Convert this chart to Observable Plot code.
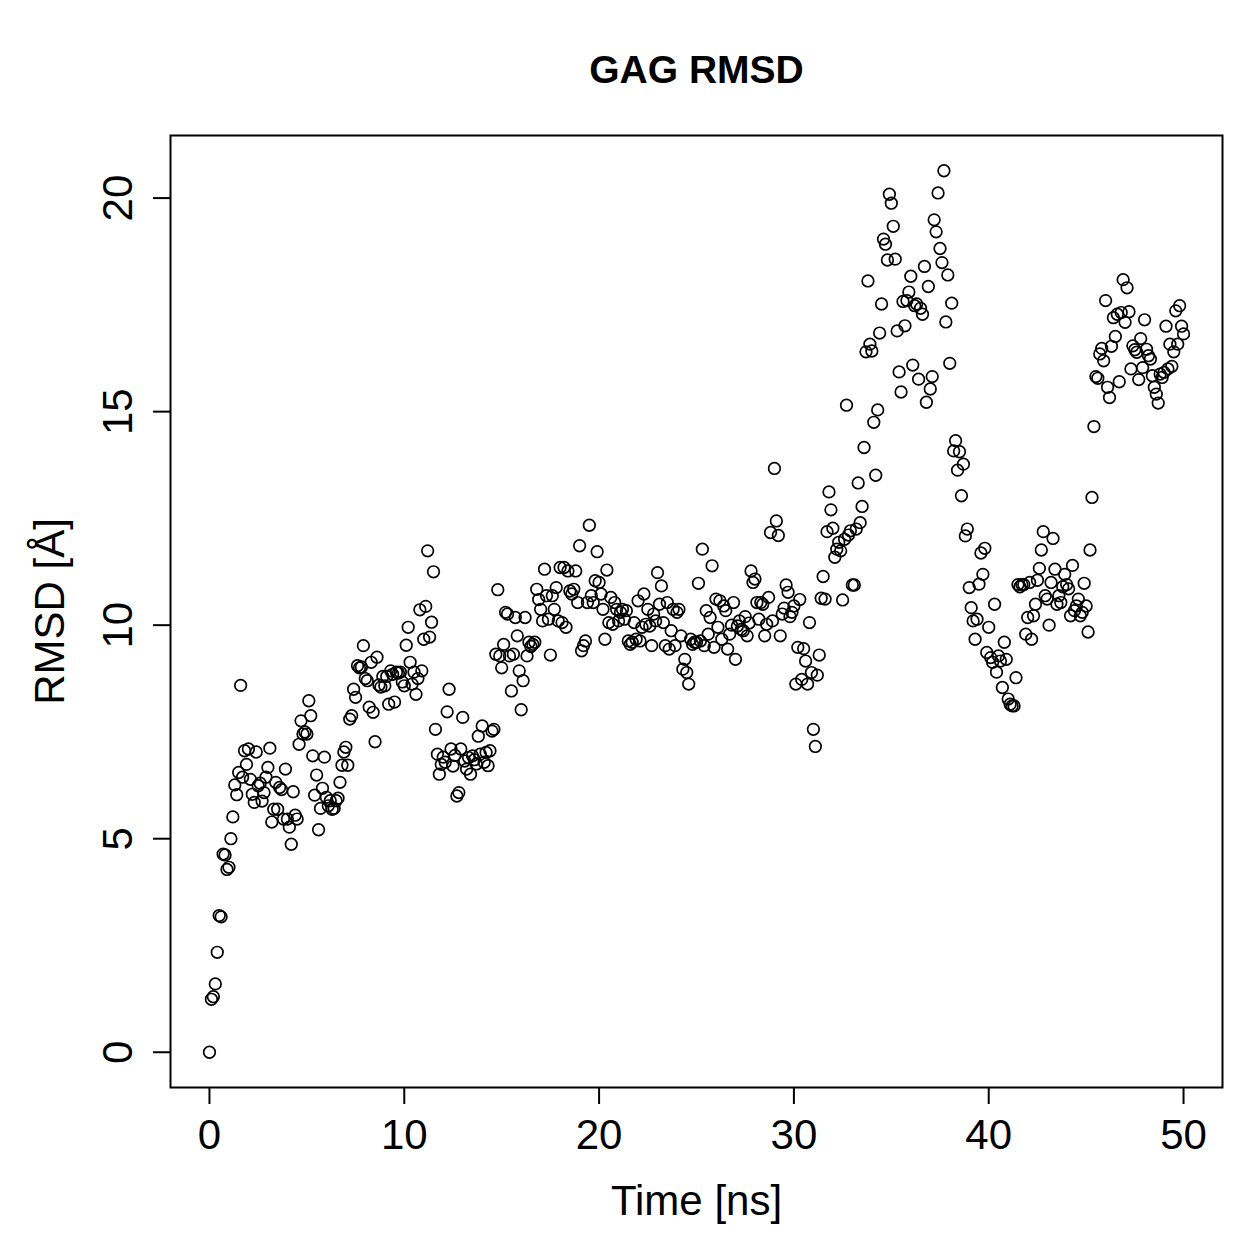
<!DOCTYPE html>
<html>
<head>
<meta charset="utf-8">
<script src="https://cdn.jsdelivr.net/npm/d3@7"></script>
<script src="https://cdn.jsdelivr.net/npm/@observablehq/plot@0.6"></script>
<style>
  html, body { margin: 0; padding: 0; background: #fff; }
</style>
</head>
<body>
<div id="chart"></div>
<script>
// Text
const title = "GAG RMSD";
const xLabel = "Time [ns]";
const yLabel = "RMSD [Å]";

// Tick positions
const xTicks = [0, 10, 20, 30, 40, 50];
const yTicks = [0, 5, 10, 15, 20];

// Trajectory frames are saved every 0.1 ns; one row per nanosecond
const timeStep = 0.1;
const rmsd = [
  0, 1.24, 1.3, 1.6, 2.34, 3.2, 3.17, 4.64, 4.62, 4.28,
  4.33, 5.0, 5.51, 6.26, 6.03, 6.55, 8.59, 6.44, 7.06, 6.74,
  7.1, 6.39, 6.04, 5.85, 7.03, 6.24, 6.3, 5.88, 6.08, 6.44,
  6.67, 7.12, 5.39, 5.69, 6.32, 5.69, 6.2, 6.15, 5.46, 6.63,
  5.46, 5.27, 4.87, 6.1, 5.55, 5.46, 7.21, 7.76, 7.45, 7.5,
  7.45, 8.23, 7.88, 6.94, 6.02, 6.49, 5.21, 5.71, 6.18, 6.91,
  5.97, 5.77, 5.89, 5.69, 5.71, 5.89, 5.95, 6.32, 6.72, 7.03,
  7.14, 6.72, 7.8, 7.88, 8.5, 8.31, 9.05, 9.0, 9.02, 9.52,
  8.75, 8.7, 8.08, 9.13, 7.96, 7.27, 9.25, 8.6, 8.55, 8.8,
  8.58, 8.8, 8.15, 8.93, 8.85, 8.2, 8.9, 8.88, 8.9, 8.67,
  8.58, 9.53, 9.95, 9.13, 8.62, 8.9, 8.38, 8.75, 10.36, 8.93,
  9.67, 10.44, 11.74, 9.72, 10.07, 11.25, 7.56, 6.98, 6.51, 6.74,
  6.91, 6.79, 7.97, 8.5, 7.1, 6.7, 6.95, 6.0, 6.08, 7.1,
  7.84, 6.82, 6.63, 6.9, 6.51, 6.94, 6.85, 6.75, 7.4, 6.98,
  7.64, 6.79, 7.02, 6.71, 7.06, 7.52, 7.56, 9.32, 10.83, 9.28,
  9.0, 9.55, 10.3, 10.26, 9.28, 8.46, 9.32, 10.18, 9.75, 8.93,
  8.02, 8.7, 10.18, 9.28, 9.6, 9.5, 9.55, 9.6, 10.84, 10.6,
  10.37, 10.1, 11.31, 10.69, 10.14, 9.3, 10.69, 10.37, 10.88, 10.1,
  11.35, 10.06, 11.35, 9.95, 11.27, 10.8, 10.73, 10.84, 11.27, 10.53,
  11.86, 9.4, 9.52, 9.63, 10.53, 12.34, 10.69, 10.53, 11.04, 11.72,
  11.0, 10.73, 10.37, 9.67, 11.29, 10.06, 10.65, 10.02, 10.53, 10.37,
  10.1, 10.3, 10.37, 10.14, 10.34, 9.63, 9.55, 9.6, 10.06, 9.67,
  10.57, 9.63, 9.95, 10.73, 10.02, 10.37, 9.98, 9.52, 10.26, 10.1,
  11.23, 10.49, 10.92, 10.06, 9.52, 10.53, 9.44, 9.87, 10.37, 9.52,
  10.3, 10.37, 9.75, 8.97, 9.2, 8.89, 8.62, 9.67, 9.55, 9.6,
  9.6, 10.98, 9.63, 11.78, 9.52, 10.34, 9.79, 10.18, 11.39, 9.48,
  10.61, 9.95, 10.57, 9.67, 10.45, 10.34, 9.44, 9.79, 10.0, 10.53,
  9.2, 9.98, 10.1, 9.9, 9.87, 10.2, 9.75, 10.05, 11.27, 11.0,
  11.08, 10.53, 10.14, 10.53, 10.49, 9.75, 10.02, 10.65, 12.17, 10.1,
  13.67, 12.44, 12.1, 9.75, 10.26, 10.4, 10.94, 10.77, 10.2, 10.3,
  10.45, 8.62, 9.48, 10.6, 8.73, 9.45, 9.16, 8.62, 10.06, 8.89,
  7.56, 7.16, 8.83, 9.3, 10.63, 11.14, 10.61, 12.19, 13.12, 12.7,
  12.27, 11.59, 11.78, 11.94, 11.74, 10.59, 12.01, 15.15, 12.11, 12.21,
  10.94, 10.94, 12.25, 13.33, 12.4, 12.78, 14.16, 16.4, 18.06, 16.58,
  16.42, 14.75, 13.51, 15.04, 16.84, 17.52, 19.04, 18.92, 18.55, 20.09,
  19.88, 19.34, 18.57, 16.89, 15.93, 15.46, 17.58, 17.01, 17.6, 17.8,
  18.17, 16.09, 17.48, 17.52, 15.76, 17.42, 17.28, 18.4, 15.22, 17.93,
  15.53, 15.82, 19.49, 19.21, 20.12, 18.82, 18.49, 20.64, 17.1, 18.2,
  16.13, 17.54, 14.08, 14.32, 13.63, 14.06, 13.03, 13.77, 12.09, 12.25,
  10.88, 10.41, 10.1, 9.67, 10.14, 10.96, 11.69, 11.19, 11.8, 9.36,
  9.95, 9.24, 9.13, 10.49, 8.9, 9.28, 9.16, 8.54, 9.6, 9.2,
  8.27, 8.15, 8.11, 8.11, 8.77, 10.95, 10.9, 10.95, 10.95, 9.79,
  10.18, 11.0, 9.67, 10.22, 10.49, 11.05, 11.33, 11.76, 12.19, 10.69,
  10.61, 10.0, 11.0, 12.03, 11.31, 10.49, 10.69, 10.53, 10.9, 11.19,
  10.95, 10.85, 10.22, 11.4, 10.34, 10.45, 10.61, 10.22, 10.3, 10.98,
  10.45, 9.84, 11.76, 12.99, 14.65, 15.82, 15.78, 16.35, 16.48, 16.19,
  17.6, 15.57, 15.33, 16.53, 17.2, 16.76, 17.28, 15.7, 17.32, 18.09,
  17.09, 17.9, 17.34, 16.0, 16.54, 16.45, 16.39, 15.75, 16.71, 16.03,
  17.15, 16.46, 16.31, 16.23, 15.84, 15.57, 15.41, 15.2, 15.88, 15.8,
  15.92, 17.0, 16.0, 16.58, 16.06, 16.4, 17.36, 16.58, 17.48, 17.0,
  16.82
];
const time = rmsd.map((_, i) => +(i * timeStep).toFixed(1));
const frames = time.map((t, i) => ({time: t, rmsd: rmsd[i]}));

// Axis range: data extent widened by 4% on each side
const widen = ([lo, hi]) => [lo - (hi - lo) * 0.04, hi + (hi - lo) * 0.04];

const font = "'Liberation Sans', Arial, Helvetica, sans-serif";

const chart = Plot.plot({
  width: 1259,
  height: 1259,
  marginLeft: 170,
  marginRight: 37,
  marginTop: 135,
  marginBottom: 172,
  style: {fontFamily: font, fontSize: "42px", color: "black", background: "white", overflow: "visible"},
  x: {domain: widen(d3.extent(time))},
  y: {domain: widen(d3.extent(rmsd))},
  marks: [
    Plot.frame({stroke: "black", strokeWidth: 2}),
    Plot.axisX({ticks: xTicks, tickSize: 17, tickPadding: 15, strokeWidth: 2, label: null, fontSize: 42}),
    Plot.axisY({ticks: yTicks, tickSize: 17, tickPadding: 22, tickRotate: -90, strokeWidth: 2, label: null, fontSize: 42}),
    Plot.dot(frames, {x: "time", y: "rmsd", r: 5.8, stroke: "black", strokeWidth: 1.7, fill: "none"}),
    Plot.text([xLabel], {text: d => d, frameAnchor: "bottom", dy: 127, lineAnchor: "bottom", fontSize: 42}),
    Plot.text([yLabel], {text: d => d, frameAnchor: "left", dx: -107, rotate: -90, textAnchor: "middle", lineAnchor: "bottom", fontSize: 42}),
    Plot.text([title], {text: d => d, frameAnchor: "top", dy: -53, lineAnchor: "bottom", fontSize: 39, fontWeight: "bold"})
  ]
});

document.getElementById("chart").append(chart);
</script>
</body>
</html>
